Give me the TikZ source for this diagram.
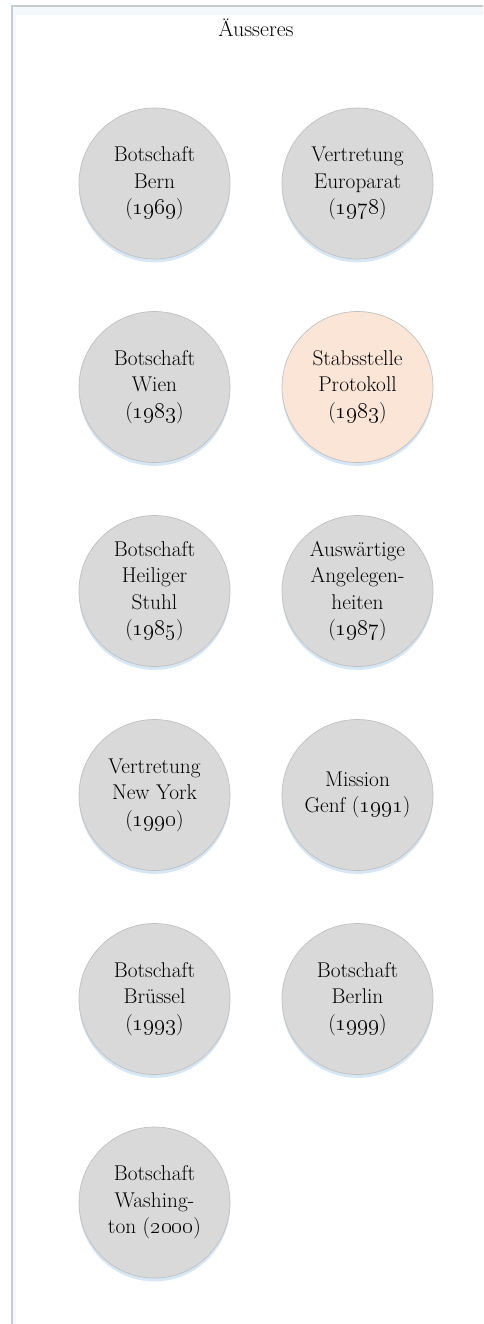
\documentclass[tikz,border=0pt]{standalone}
\usetikzlibrary{shadows}
\definecolor{circfill}{HTML}{D9D9D9}
\definecolor{circline}{HTML}{BFBFBF}
\definecolor{pinkfill}{HTML}{FBE5D6}
\definecolor{glow}{HTML}{D6E6F5}
\definecolor{frameline}{HTML}{C9CCCF}
\definecolor{frameband}{HTML}{F2F8FC}
\newcommand{\yr}[1]{(\oldstylenums{#1})}
\tikzset{
  unit/.style={circle, minimum size=151*0.75pt, inner sep=0pt, align=center,
    fill=circfill, draw=circline, line width=0.5pt,
    font=\fontsize{16}{19.8}\selectfont,
    drop shadow={shadow xshift=0pt, shadow yshift=-2.5pt, fill=glow, opacity=1}},
  pinkunit/.style={unit, fill=pinkfill},
  titletext/.style={font=\fontsize{16.5}{18}\selectfont}
}
\begin{document}
\begin{tikzpicture}[x=0.75pt,y=-0.75pt]
\useasboundingbox (0,0) rectangle (483,1324);
\fill[white] (0,0) rectangle (483,1324);
% frame
\fill[frameband] (13,7) rectangle (483,15);
\fill[frameband] (13,7) rectangle (16,1324);
\draw[frameline, line width=1pt] (483,6) -- (12,6) -- (12,1324);
% title
\node[titletext] (title) at (256,28) {Äusseres};
% units
\node[unit] (bern) at (154.5,183.5) {Botschaft\\Bern\\\yr{1969}};
\node[unit] (europarat) at (357.5,183.5) {Vertretung\\Europarat\\\yr{1978}};
\node[unit] (wien) at (154.5,387) {Botschaft\\Wien\\\yr{1983}};
\node[pinkunit] (protokoll) at (357.5,387) {Stabsstelle\\Protokoll\\\yr{1983}};
\node[unit] (stuhl) at (154.5,591) {Botschaft\\Heiliger\\Stuhl\\\yr{1985}};
\node[unit] (ausw) at (357.5,591) {Auswärtige\\Angelegen-\\heiten\\\yr{1987}};
\node[unit] (newyork) at (154.5,795) {Vertretung\\New York\\\yr{1990}};
\node[unit] (genf) at (357.5,795) {Mission\\Genf \yr{1991}};
\node[unit] (bruessel) at (154.5,999) {Botschaft\\Brüssel\\\yr{1993}};
\node[unit] (berlin) at (357.5,999) {Botschaft\\Berlin\\\yr{1999}};
\node[unit] (washington) at (154.5,1202.5) {Botschaft\\Washing-\\ton \yr{2000}};
\end{tikzpicture}
\end{document}
